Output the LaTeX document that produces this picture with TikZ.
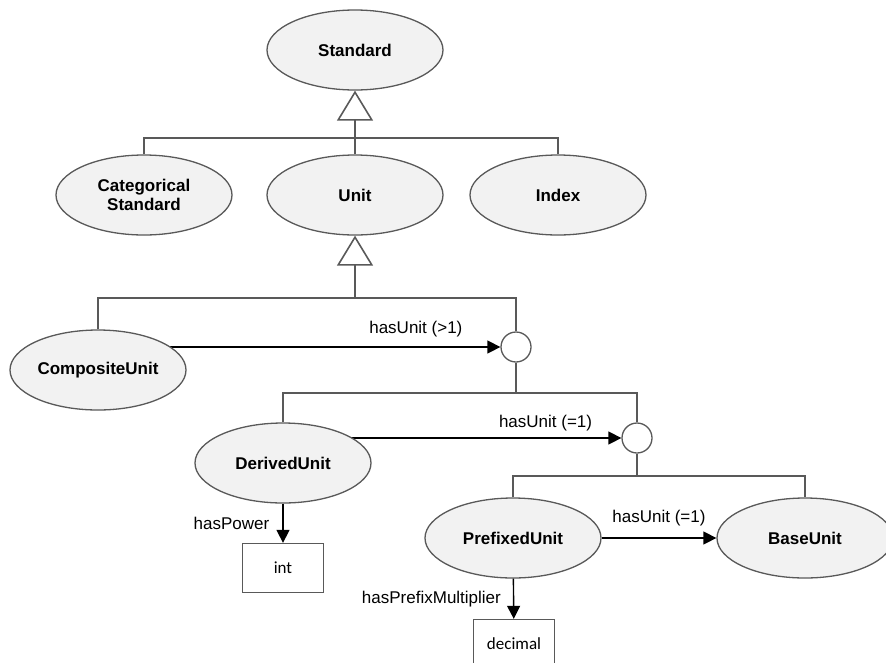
\documentclass[tikz,border=0pt]{standalone}
\usepackage{fontspec}
\setmainfont{Liberation Sans}
\newfontfamily\boxfont{Carlito}
\usetikzlibrary{arrows.meta,shapes.geometric,backgrounds}
\definecolor{linegray}{HTML}{595959}
\definecolor{classfill}{HTML}{F2F2F2}

\begin{document}
\begin{tikzpicture}[x=1pt,y=-1pt,line width=1.3pt,font=\fontsize{17}{20}\selectfont]
    \tikzstyle{class}=[ellipse,draw=linegray,fill=classfill,minimum width=176pt,minimum height=80pt,inner sep=0pt,align=center,font=\fontsize{17}{19}\selectfont\bfseries]
    \tikzstyle{union}=[circle,draw=linegray,fill=white,minimum size=30pt,inner sep=0pt]
    \tikzstyle{datatype}=[rectangle,draw=linegray,minimum width=81pt,minimum height=49pt,font=\fontsize{17}{20}\selectfont\boxfont]
    \tikzstyle{tree}=[draw=linegray,line width=1.6pt]
    \tikzstyle{isa}=[tree,-{Triangle[open,width=36pt,length=30pt]}]
    \tikzstyle{prop}=[draw=black,line width=1.4pt,-{Triangle[width=13pt,length=13pt]}]
    \tikzstyle{annot}=[inner sep=1pt,font=\fontsize{17}{20}\selectfont]

    \path[use as bounding box,clip] (0,0) rectangle (886,662);

    % Draw the classes
    \foreach \name/\x/\y/\txt in {Std/355/50/Standard,Cat/144/195/Categorical\\Standard,
                                  Unit/355/195/Unit,Idx/558/195/Index,Comp/98/370/CompositeUnit,
                                  Der/283/463/DerivedUnit,Pre/513/538/PrefixedUnit,Base/805/538/BaseUnit}
        \node[class] (\name) at (\x,\y) {\txt};

    % Draw the unions and the datatypes
    \node[union] (U-1) at (516,347) {};
    \node[union] (U-2) at (637,438) {};
    \node[datatype] (int) at (283,568) {int};
    \node[datatype] (dec) at (514,644) {decimal};

    % Branching points of the hierarchy
    \coordinate (bar-1) at (355,138);
    \coordinate (bar-2) at (355,298);
    \coordinate (bar-3) at (516,393);
    \coordinate (bar-4) at (637,476);

    % Subclass lines
    \draw[tree] (Cat.north) |- (bar-1) -| (Idx.north);
    \draw[isa] (Unit) -- (Std);
    \draw[tree] (Comp.north) |- (bar-2) -| (U-1.north);
    \draw[isa] (bar-2) -- (Unit);
    \draw[tree] (Der.north) |- (bar-3) -| (U-2.north);
    \draw[tree] (bar-3) -- (U-1.south);
    \draw[tree] (Pre.north) |- (bar-4) -| (Base.north);
    \draw[tree] (bar-4) -- (U-2.south);

    % Properties
    \begin{scope}[on background layer]
        \draw[prop] (Comp.center |- U-1) -- (U-1.west)
            node[annot,pos=0.79,above=8pt] {hasUnit (>1)};
        \draw[prop] (Der.center |- U-2) -- (U-2.west)
            node[annot,pos=0.776,above=5pt] {hasUnit (=1)};
    \end{scope}
    \draw[prop] (Pre) -- (Base) node[annot,midway,above=10pt] {hasUnit (=1)};
    \draw[prop] (Der) -- (int) node[annot,midway,left=12pt] {hasPower};
    \draw[prop] (Pre) -- (dec) node[annot,midway,left=11pt] {hasPrefixMultiplier};
\end{tikzpicture}
\end{document}
